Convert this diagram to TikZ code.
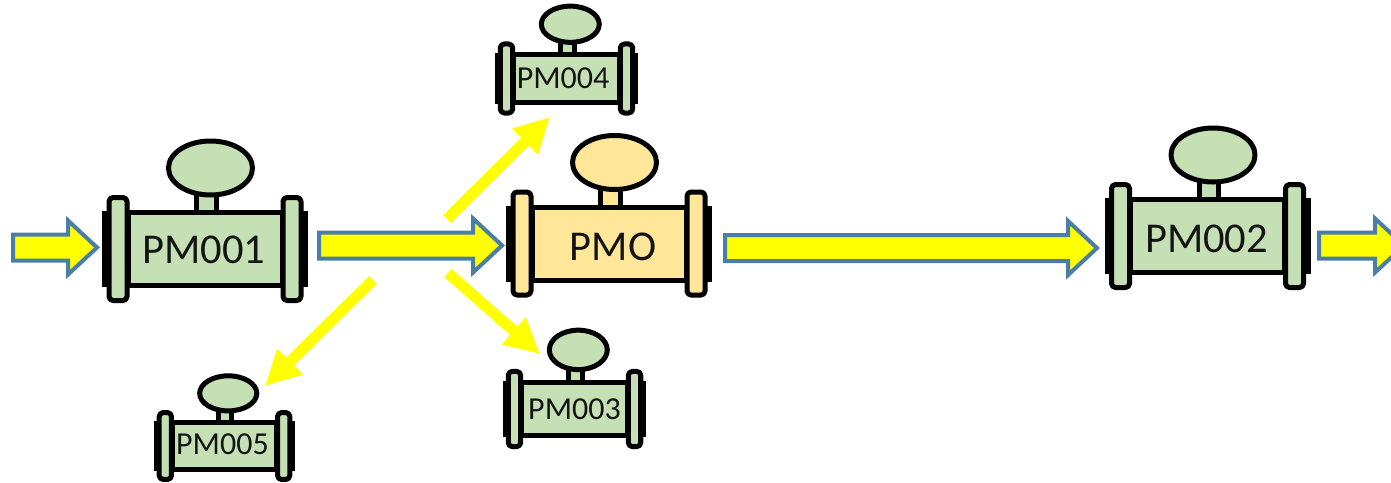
\documentclass[tikz,border=0pt]{standalone}
\usepackage{fontspec}
\setmainfont{Carlito}
\usetikzlibrary{arrows.meta,calc}
\definecolor{metergreen}{HTML}{C5E0B4}
\definecolor{meterorange}{HTML}{FFE699}
\definecolor{arrowblue}{HTML}{4A7EA8}
\definecolor{arrowyellow}{HTML}{FFFF00}
\tikzset{
  meterpart/.style={draw=black,line width=5pt,line join=round},
  flangepart/.style={meterpart,rounded corners=4pt},
  backing/.style={fill=black,draw=none},
  blockarrow/.style={draw=arrowblue,line width=4pt,fill=arrowyellow,line join=miter},
  splitarrow/.style={draw=arrowyellow,line width=11pt,-{Triangle[length=35pt,width=34pt]}},
  bigtext/.style={font=\fontsize{42.5}{44}\selectfont,text=black!92,inner sep=0pt},
  smalltext/.style={font=\fontsize{32}{34}\selectfont,text=black!92,inner sep=0pt}
}
% name, cx, cy, xscale, yscale, fill, text style, text, text offset
\newcommand{\flowmeter}[9]{%
  \begin{scope}[shift={(#2,#3)},xscale=#4,yscale=#5]
    \fill[backing] (-103,-38) rectangle (-96,38);
    \fill[backing] (96,-38) rectangle (103,38);
    \draw[meterpart,fill=#6] (-8.5,-56) rectangle (11,-36);
    \draw[meterpart,fill=#6] (5.5,-81) ellipse [x radius=42,y radius=27];
    \draw[meterpart,fill=#6] (-77,-36.5) rectangle (77,36.5);
    \draw[flangepart,fill=#6] (-96,-51.5) rectangle (-78,51.5);
    \draw[flangepart,fill=#6] (78,-51.5) rectangle (96,51.5);
    \node[#7] (#1) at (#9) {#8};
  \end{scope}}
% tail coordinate, tip coordinate of a horizontal outlined arrow
\newcommand{\flowarrow}[2]{%
  \draw[blockarrow] ($(#1)+(0,-13)$) -- ($(#2)+(-29,-13)$) -- ($(#2)+(-29,-27)$)
    -- (#2) -- ($(#2)+(-29,27)$) -- ($(#2)+(-29,13)$) -- ($(#1)+(0,13)$) -- cycle;}
\begin{document}
\begin{tikzpicture}[x=1pt,y=-1pt]
  \clip (0,0) rectangle (1391,482);
  \flowmeter{pm001}{205}{249}{1}{1}{metergreen}{bigtext}{PM001}{-1,1}
  \flowmeter{pmo}{609}{243.5}{1}{1}{meterorange}{bigtext}{PMO}{4,3}
  \flowmeter{pm002}{1207.5}{236}{1}{1}{metergreen}{bigtext}{PM002}{-1,3}
  \flowmeter{pm004}{566.5}{78.5}{.69}{.67}{metergreen}{smalltext}{PM004}{-5,0}
  \flowmeter{pm003}{574.5}{409}{.69}{.73}{metergreen}{smalltext}{PM003}{0,0}
  \flowmeter{pm005}{224.5}{446}{.68}{.65}{metergreen}{smalltext}{PM005}{-3,-2}
  \coordinate (a1t) at (13,247.5);   \coordinate (a1h) at (97,247.5);
  \coordinate (a2t) at (319,245.5);  \coordinate (a2h) at (502,245.5);
  \coordinate (a3t) at (725,248);    \coordinate (a3h) at (1097,248);
  \coordinate (a4t) at (1319,245.5); \coordinate (a4h) at (1404,245.5);
  \flowarrow{a1t}{a1h}
  \flowarrow{a2t}{a2h}
  \flowarrow{a3t}{a3h}
  \flowarrow{a4t}{a4h}
  \coordinate (s1t) at (447,219); \coordinate (s1h) at (550,117);
  \coordinate (s2t) at (448,273); \coordinate (s2h) at (540,354);
  \coordinate (s3t) at (373,280); \coordinate (s3h) at (265,386);
  \draw[splitarrow] (s1t) -- (s1h);
  \draw[splitarrow] (s2t) -- (s2h);
  \draw[splitarrow] (s3t) -- (s3h);
\end{tikzpicture}
\end{document}
